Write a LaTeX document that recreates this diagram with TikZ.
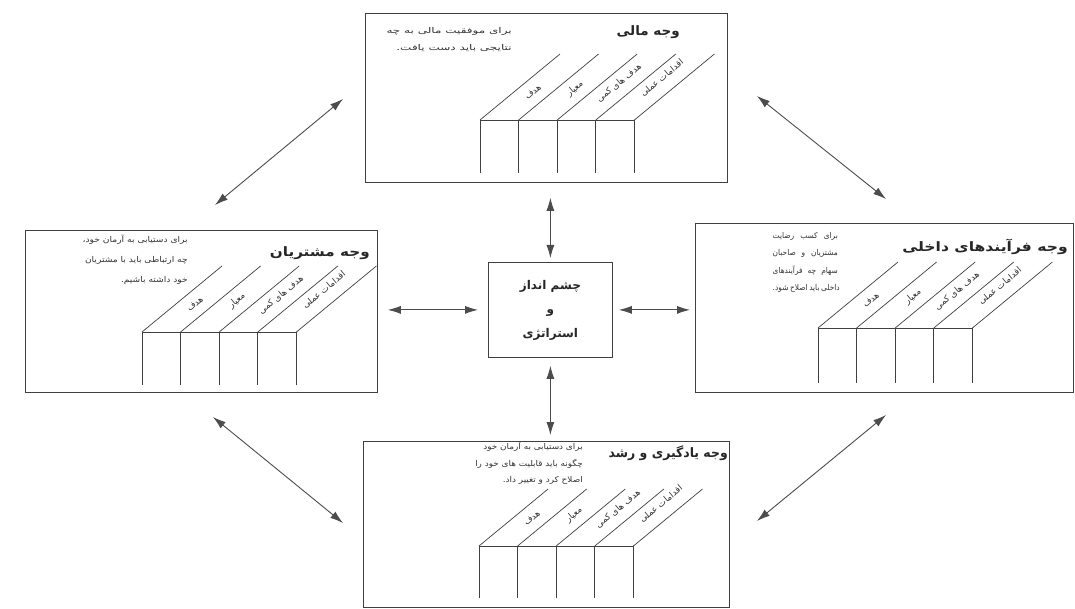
\documentclass[tikz,border=0pt]{standalone}
\usepackage{fontspec}
\newfontfamily\fa[Script=Arabic]{DejaVu Sans}
\TeXXeTstate=1
\usetikzlibrary{arrows.meta}
\newcommand\rl[1]{\beginR #1\endR}
\newcommand\jl[1]{\makebox[70pt][s]{\beginR #1\endR}}
\newcommand\facetgrid[5]{% #1,#2 = left end of horizontal line, #3 = vertical length, #4 = name prefix, #5 = rise
  \begin{scope}[shift={(#1,#2)}]
    \draw[gridline] (0,0) -- (154.4,0);
    \foreach \i in {0,...,4} {
      \draw[gridline] (\i*38.6,0) -- ++(0,#3);
      \draw[gridline] (\i*38.6,0) -- ++(1.212*#5,-#5);
    }
    \node[lbl] (#4-l1) at (53,-28) {\rl{هدف}};
    \node[lbl] (#4-l2) at (95,-31) {\rl{معیار}};
    \node[lbl] (#4-l3) at (139,-37) {\rl{هدف های کمی}};
    \node[lbl] (#4-l4) at (182,-42) {\rl{اقدامات عملی}};
  \end{scope}}
\begin{document}
\begin{tikzpicture}[x=1pt,y=-1pt,
  facet/.style={draw=black!75, line width=0.8pt, inner sep=0pt, anchor=north west},
  gridline/.style={draw=black!75, line width=0.7pt},
  biarrow/.style={{Latex[length=13pt,width=8pt]}-{Latex[length=13pt,width=8pt]}, draw=black!70, line width=0.9pt},
  title/.style={font=\fa\bfseries\fontsize{13}{15}\selectfont, text=black!85, anchor=east, inner sep=0pt},
  desc/.style={font=\fa\fontsize{8}{17.5}\selectfont, align=right, anchor=north east, inner sep=0pt, text=black!80},
  lbl/.style={font=\fa\fontsize{8.8}{10}\selectfont, rotate=39.5, inner sep=0pt, text=black!80},
  ctrtext/.style={font=\fa\bfseries\fontsize{12}{24}\selectfont, align=center, text=black!85}]
\useasboundingbox (0,0) rectangle (1075,609);
\fill[white] (0,0) rectangle (1075,609);

% boxes
\node[facet, minimum width=362pt, minimum height=169pt] (fin) at (365,13) {};
\node[facet, minimum width=352pt, minimum height=162pt] (cust) at (25,230) {};
\node[facet, minimum width=378pt, minimum height=169pt] (proc) at (695,223) {};
\node[facet, minimum width=366pt, minimum height=166pt] (learn) at (363,441) {};
\node[facet, minimum width=124pt, minimum height=95pt] (ctr) at (488,262) {};
\node[ctrtext] (ctrt) at ([yshift=-1pt]ctr.center) {\rl{چشم انداز}\\\rl{و}\\\rl{استراتژی}};

% titles
\node[title, xscale=1.04] (fin-t) at (680,32) {\rl{وجه مالی}};
\node[title, xscale=1.17] (cust-t) at (370,253) {\rl{وجه مشتریان}};
\node[title, xscale=1.2] (proc-t) at (1068,247) {\rl{وجه فرآیندهای داخلی}};
\node[title, xscale=0.96] (learn-t) at (728,453) {\rl{وجه یادگیری و رشد}};

% descriptions
\node[desc, xscale=1.5] (fin-d) at (512,27) {\rl{برای موفقیت مالی به چه}\\\rl{نتایجی باید دست یافت.}};
\node[desc, xscale=1.14, font=\fa\fontsize{8}{20}\selectfont] (cust-d) at (188,235) {\rl{برای دستیابی به آرمان خود،}\\\rl{چه ارتباطی باید با مشتریان}\\\rl{خود داشته باشیم.}};
\node[desc, xscale=0.93] (proc-d) at (838,232) {\jl{برای کسب رضایت}\\\jl{مشتریان و صاحبان}\\\jl{سهام چه فرآیندهای}\\\jl{داخلی باید اصلاح شود.}};
\node[desc, xscale=1.11, font=\fa\fontsize{8}{16.5}\selectfont] (learn-d) at (583,442) {\rl{برای دستیابی به آرمان خود}\\\rl{چگونه باید قابلیت های خود را}\\\rl{اصلاح کرد و تغییر داد.}};

% inner grids
\facetgrid{480}{120}{53}{fin}{66}
\facetgrid{142}{332}{53}{cust}{66}
\facetgrid{818}{328}{55}{proc}{66}
\facetgrid{479}{546}{52}{learn}{57}

% arrows around the centre
\draw[biarrow, shorten <=15pt, shorten >=4pt] (ctr.north |- fin.south) -- (ctr.north);
\draw[biarrow, shorten <=8pt, shorten >=6pt] (ctr.south) -- (ctr.south |- learn.north);
\draw[biarrow, shorten <=10pt, shorten >=10pt] (ctr.west) -- (ctr.west -| cust.east);
\draw[biarrow, shorten <=6pt, shorten >=5pt] (ctr.east) -- (ctr.east -| proc.west);

% diagonal arrows between facets
\coordinate (tl1) at (343,99);  \coordinate (tl2) at (215,205);
\coordinate (tr1) at (757,96);  \coordinate (tr2) at (886,199);
\coordinate (bl1) at (213,417); \coordinate (bl2) at (343,523);
\coordinate (br1) at (886,415); \coordinate (br2) at (757,521);
\draw[biarrow] (tl1) -- (tl2);
\draw[biarrow] (tr1) -- (tr2);
\draw[biarrow] (bl1) -- (bl2);
\draw[biarrow] (br1) -- (br2);
\end{tikzpicture}
\end{document}
